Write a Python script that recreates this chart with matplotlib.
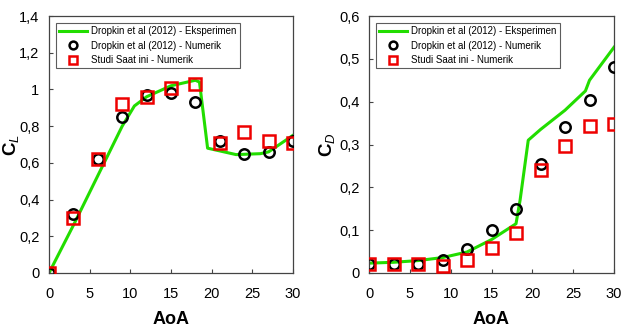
import matplotlib
matplotlib.use('Agg')
from matplotlib import pyplot as plt
from matplotlib.ticker import FuncFormatter

plt.rcParams['font.family'] = ['Liberation Sans', 'DejaVu Sans']
plt.rcParams['mathtext.fontset'] = 'custom'
plt.rcParams['mathtext.rm'] = 'Liberation Sans'
plt.rcParams['mathtext.bf'] = 'Liberation Sans:bold'
plt.rcParams['mathtext.it'] = 'Liberation Sans:italic'

# experiment (line)
exp_aoa_cl = [0, 3, 6, 9, 10.5, 12, 15, 18, 18.5, 19.5, 21, 23, 26, 27, 30]
exp_cl = [0, 0.26, 0.53, 0.80, 0.91, 0.96, 1.02, 1.05, 1.04, 0.68, 0.665, 0.645, 0.65, 0.66, 0.75]
exp_aoa_cd = [0, 3, 6, 9, 12, 15, 18, 18.5, 19.5, 21, 24, 26.5, 27, 30]
exp_cd = [0.023, 0.025, 0.029, 0.036, 0.049, 0.078, 0.115, 0.17, 0.31, 0.335, 0.38, 0.425, 0.45, 0.527]

# numerical results
aoa = [0, 3, 6, 9, 12, 15, 18, 21, 24, 27, 30]
cl_dropkin = [0, 0.32, 0.62, 0.85, 0.97, 0.98, 0.93, 0.72, 0.65, 0.66, 0.72]
cl_studi = [0, 0.30, 0.62, 0.92, 0.96, 1.01, 1.03, 0.71, 0.77, 0.72, 0.71]
cd_dropkin = [0.02, 0.022, 0.022, 0.03, 0.056, 0.10, 0.15, 0.255, 0.341, 0.404, 0.48]
cd_studi = [0.02, 0.02, 0.022, 0.017, 0.031, 0.059, 0.094, 0.24, 0.297, 0.344, 0.347]

labels = ['Dropkin et al (2012) - Eksperimen', 'Dropkin et al (2012) - Numerik',
          'Studi Saat ini - Numerik']

fig = plt.figure(figsize=(6.21, 3.27), dpi=100)
ax = fig.add_axes([49/621, 1 - 273/327, 244/621, 257/327])
ax2 = fig.add_axes([369/621, 1 - 273/327, 245/621, 257/327])

comma = FuncFormatter(lambda v, p: ('%g' % round(v, 3)).replace('.', ','))

for a, ax_aoa, exp, num1, num2, ymax, ystep, ylab, lab_x in [
        (ax, exp_aoa_cl, exp_cl, cl_dropkin, cl_studi, 1.4, 0.2, r'$\mathbf{C}_{\mathit{L}}$', -0.115),
        (ax2, exp_aoa_cd, exp_cd, cd_dropkin, cd_studi, 0.6, 0.1, r'$\mathbf{C}_{\mathit{D}}$', -0.132)]:
    a.plot(ax_aoa, exp, '-', color='#22dd00', lw=2.2, label=labels[0], zorder=2)
    a.plot(aoa, num1, 'o', ms=7.5, mfc='none', mec='black', mew=1.8, label=labels[1], zorder=3)
    a.plot(aoa, num2, 's', ms=8, mfc='none', mec='#ee0000', mew=1.8, label=labels[2], zorder=4)
    a.set_xlim(0, 30)
    a.set_ylim(0, ymax)
    a.set_xticks(range(0, 31, 5))
    a.set_yticks([i * ystep for i in range(int(round(ymax / ystep)) + 1)])
    a.yaxis.set_major_formatter(comma)
    a.tick_params(direction='in', labelsize=10.5, length=3, color='#444444')
    a.tick_params(axis='x', pad=10)
    a.tick_params(axis='y', pad=7)
    a.set_xlabel('AoA', fontsize=13, fontweight='bold', labelpad=7)
    a.set_ylabel(ylab, fontsize=13.5)
    a.yaxis.set_label_coords(lab_x, 0.5)
    for s in a.spines.values():
        s.set_linewidth(0.9)
        s.set_color('#444444')
    leg = a.legend(loc='upper left', fontsize=7, frameon=True, fancybox=False,
                   edgecolor='#333333', borderpad=0.35, labelspacing=0.45,
                   handlelength=2.9, handletextpad=0.35, borderaxespad=0.7,
                   markerscale=0.75)
    leg.get_frame().set_linewidth(0.8)

fig.savefig('out.png', dpi=100)
